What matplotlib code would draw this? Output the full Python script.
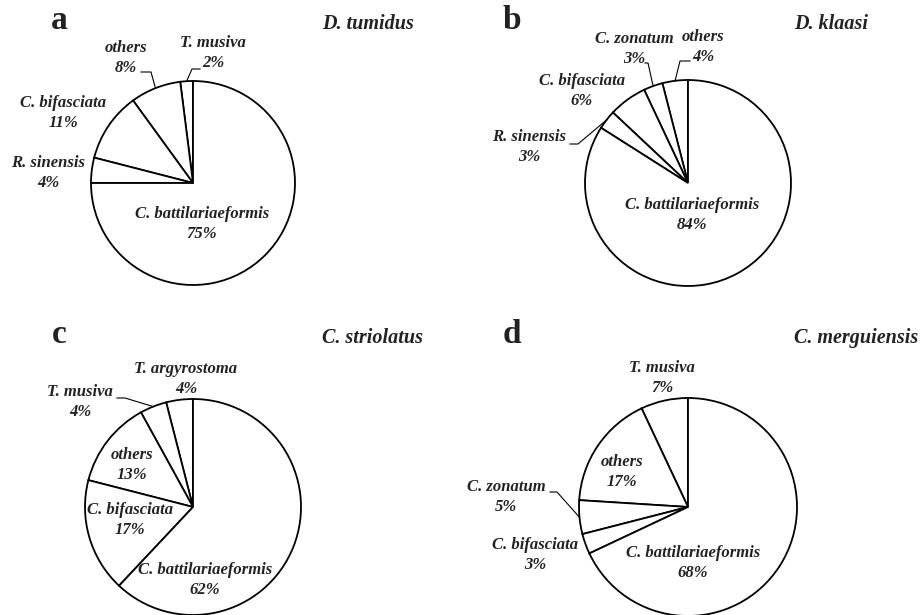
import matplotlib.pyplot as plt
import numpy as np

W, H = 921, 615

# slices listed counter-clockwise starting at 12 o'clock
species_a = ["T. musiva", "others", "C. bifasciata", "R. sinensis", "C. battilariaeformis"]
share_a = [2, 8, 11, 4, 75]
species_b = ["others", "C. zonatum", "C. bifasciata", "R. sinensis", "C. battilariaeformis"]
share_b = [4, 3, 6, 3, 84]
species_c = ["T. argyrostoma", "T. musiva", "others", "C. bifasciata", "C. battilariaeformis"]
share_c = [4, 4, 13, 17, 62]
species_d = ["T. musiva", "others", "C. zonatum", "C. bifasciata", "C. battilariaeformis"]
share_d = [7, 17, 5, 3, 68]
panel_letters = ["a", "b", "c", "d"]
hosts = ["D. tumidus", "D. klaasi", "C. striolatus", "C. merguiensis"]

# layout in pixels (x right, y down): pie centre + radius, label centres, leader elbows
layout = [
    dict(c=(193, 183), r=102, letter=(59, 29), host=(322, 29),
         labels=[(213, 53), (126, 58), (63, 113), (48, 173), (202, 224)],
         leaders={0: [(192, 69), (200, 69)], 1: [(151, 72), (141, 72)]}),
    dict(c=(688, 183), r=103, letter=(512, 29), host=(794, 29),
         labels=[(703, 47), (634, 49), (582, 91), (529, 147), (692, 215)],
         leaders={0: [(680, 61), (690, 61)], 1: [(648, 63), (645, 63)],
                  3: [(578, 144), (570, 144)]}),
    dict(c=(193, 507), r=108, letter=(59, 343), host=(322, 343),
         labels=[(186, 379), (80, 402), (132, 465), (130, 520), (205, 580)],
         leaders={1: [(125, 398), (117, 398)]}),
    dict(c=(688, 507), r=109, letter=(512, 343), host=(794, 343),
         labels=[(662, 378), (622, 472), (506, 497), (535, 555), (693, 563)],
         leaders={2: [(557, 492), (550, 492)]}),
]

panels = [(species_a, share_a), (species_b, share_b),
          (species_c, share_c), (species_d, share_d)]

fig = plt.figure(figsize=(W / 100, H / 100), dpi=100)
ax = fig.add_axes([0, 0, 1, 1])

serif = "Liberation Serif"

def to_data(p):
    return p[0], H - p[1]

for (names, shares), lay, letter, host in zip(panels, layout, panel_letters, hosts):
    cx, cy = to_data(lay["c"])
    wedges, _ = ax.pie(shares, startangle=90, counterclock=True, center=(cx, cy),
                       radius=lay["r"], colors=["white"] * len(shares),
                       wedgeprops=dict(edgecolor="black", linewidth=1.3))
    for i, (name, val) in enumerate(zip(names, shares)):
        lx, ly = to_data(lay["labels"][i])
        ax.text(lx, ly, f"{name}\n{val}%", ha="center", va="center",
                family=serif, weight="bold", style="italic", fontsize=12,
                linespacing=1.35, color="#222222")
        if i in lay["leaders"]:
            w = wedges[i]
            mid = np.deg2rad((w.theta1 + w.theta2) / 2)
            pts = [(cx + lay["r"] * np.cos(mid), cy + lay["r"] * np.sin(mid))]
            pts += [to_data(p) for p in lay["leaders"][i]]
            xs, ys = zip(*pts)
            ax.plot(xs, ys, color="black", lw=0.8)
    ax.text(*to_data(lay["letter"]), letter, ha="center", va="baseline",
            family=serif, weight="bold", fontsize=24, color="#222222")
    ax.text(*to_data(lay["host"]), host, ha="left", va="baseline",
            family=serif, weight="bold", style="italic", fontsize=14.5, color="#222222")

ax.set_xlim(0, W)
ax.set_ylim(0, H)
ax.set_aspect("equal")
ax.axis("off")

fig.savefig("out.png", dpi=100)
